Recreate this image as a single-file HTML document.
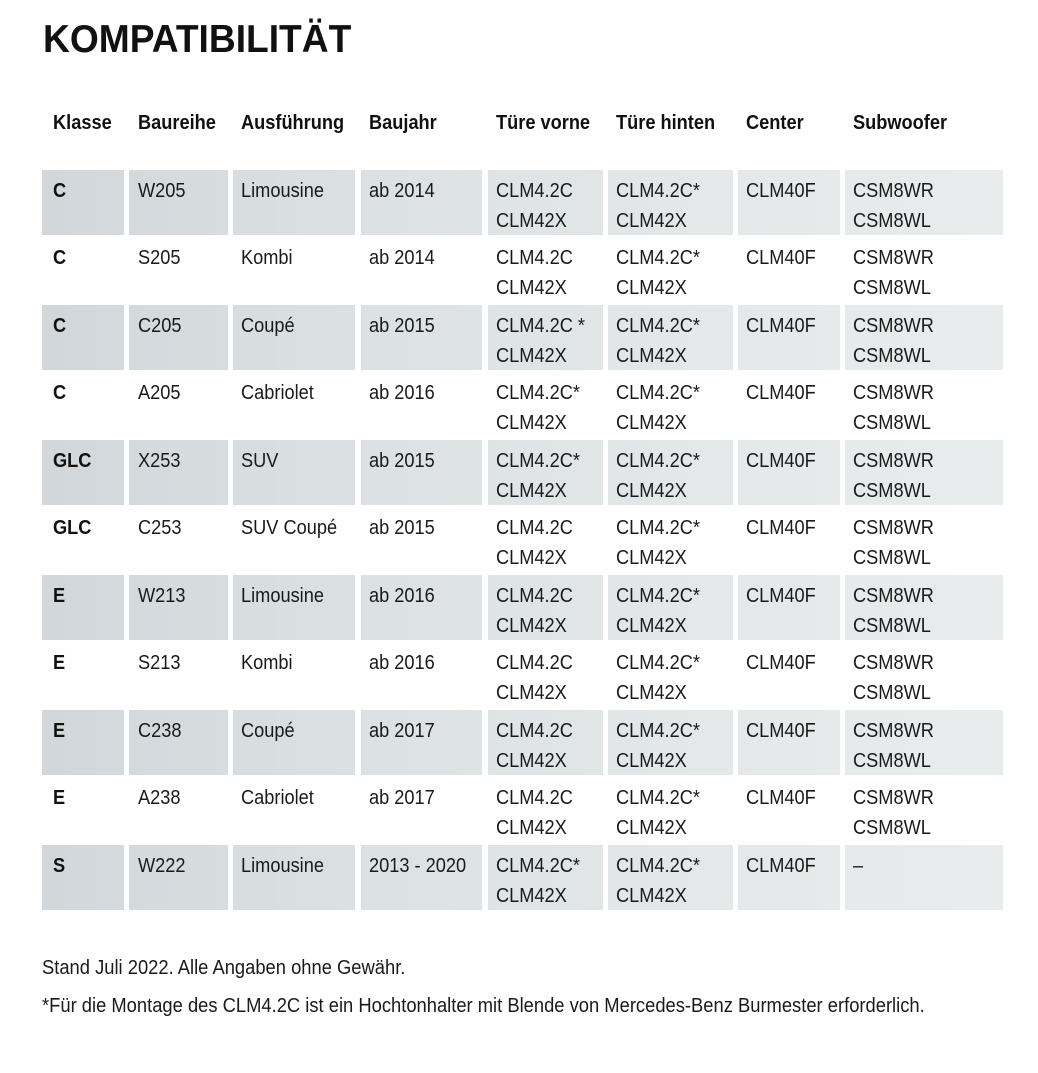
<!DOCTYPE html>
<html>
<head>
<meta charset="utf-8">
<style>
html,body{margin:0;padding:0;background:#fff;}
body{width:1038px;height:1073px;position:relative;overflow:hidden;}
.t{position:absolute;font-family:"Liberation Sans",Arial,sans-serif;font-size:20px;line-height:30px;color:#1a1a1a;transform:scaleX(.91);transform-origin:0 0;white-space:nowrap;}
.b{font-weight:bold;color:#111;}
.title{position:absolute;left:43px;top:20px;font-family:"Liberation Sans",Arial,sans-serif;font-weight:bold;font-size:39px;line-height:39px;color:#111;transform:scaleX(.953);transform-origin:0 0;white-space:nowrap;}
.band{position:absolute;left:42px;width:961px;height:65px;background:linear-gradient(to right,#d1d7da 0%,#dce1e3 35%,#e4e8e9 70%,#e8ecec 100%);}
.gap{position:absolute;top:160px;height:760px;width:5px;background:#fff;}
.fn{transform:scaleX(.918);}
</style>
</head>
<body>
<div class="title">KOMPATIBILITÄT</div>

<!-- header -->
<div class="t b" style="left:53px;top:108px">Klasse</div>
<div class="t b" style="left:138px;top:108px">Baureihe</div>
<div class="t b" style="left:241px;top:108px">Ausführung</div>
<div class="t b" style="left:369px;top:108px">Baujahr</div>
<div class="t b" style="left:496px;top:108px">Türe vorne</div>
<div class="t b" style="left:616px;top:108px">Türe hinten</div>
<div class="t b" style="left:746px;top:108px">Center</div>
<div class="t b" style="left:853px;top:108px">Subwoofer</div>

<!-- shaded bands -->
<div class="band" style="top:170px"></div>
<div class="band" style="top:305px"></div>
<div class="band" style="top:440px"></div>
<div class="band" style="top:575px"></div>
<div class="band" style="top:710px"></div>
<div class="band" style="top:845px"></div>

<!-- column gaps -->
<div class="gap" style="left:124px"></div>
<div class="gap" style="left:228px"></div>
<div class="gap" style="left:355px;width:6px"></div>
<div class="gap" style="left:482px;width:6px"></div>
<div class="gap" style="left:603px"></div>
<div class="gap" style="left:733px"></div>
<div class="gap" style="left:840px"></div>

<!-- row 1 -->
<div class="t b" style="left:53px;top:175.5px">C</div>
<div class="t" style="left:138px;top:175.5px">W205</div>
<div class="t" style="left:241px;top:175.5px">Limousine</div>
<div class="t" style="left:369px;top:175.5px">ab 2014</div>
<div class="t" style="left:496px;top:175.5px">CLM4.2C<br>CLM42X</div>
<div class="t" style="left:616px;top:175.5px">CLM4.2C*<br>CLM42X</div>
<div class="t" style="left:746px;top:175.5px">CLM40F</div>
<div class="t" style="left:853px;top:175.5px">CSM8WR<br>CSM8WL</div>

<!-- row 2 -->
<div class="t b" style="left:53px;top:243px">C</div>
<div class="t" style="left:138px;top:243px">S205</div>
<div class="t" style="left:241px;top:243px">Kombi</div>
<div class="t" style="left:369px;top:243px">ab 2014</div>
<div class="t" style="left:496px;top:243px">CLM4.2C<br>CLM42X</div>
<div class="t" style="left:616px;top:243px">CLM4.2C*<br>CLM42X</div>
<div class="t" style="left:746px;top:243px">CLM40F</div>
<div class="t" style="left:853px;top:243px">CSM8WR<br>CSM8WL</div>

<!-- row 3 -->
<div class="t b" style="left:53px;top:310.5px">C</div>
<div class="t" style="left:138px;top:310.5px">C205</div>
<div class="t" style="left:241px;top:310.5px">Coupé</div>
<div class="t" style="left:369px;top:310.5px">ab 2015</div>
<div class="t" style="left:496px;top:310.5px">CLM4.2C *<br>CLM42X</div>
<div class="t" style="left:616px;top:310.5px">CLM4.2C*<br>CLM42X</div>
<div class="t" style="left:746px;top:310.5px">CLM40F</div>
<div class="t" style="left:853px;top:310.5px">CSM8WR<br>CSM8WL</div>

<!-- row 4 -->
<div class="t b" style="left:53px;top:378px">C</div>
<div class="t" style="left:138px;top:378px">A205</div>
<div class="t" style="left:241px;top:378px">Cabriolet</div>
<div class="t" style="left:369px;top:378px">ab 2016</div>
<div class="t" style="left:496px;top:378px">CLM4.2C*<br>CLM42X</div>
<div class="t" style="left:616px;top:378px">CLM4.2C*<br>CLM42X</div>
<div class="t" style="left:746px;top:378px">CLM40F</div>
<div class="t" style="left:853px;top:378px">CSM8WR<br>CSM8WL</div>

<!-- row 5 -->
<div class="t b" style="left:53px;top:445.5px">GLC</div>
<div class="t" style="left:138px;top:445.5px">X253</div>
<div class="t" style="left:241px;top:445.5px">SUV</div>
<div class="t" style="left:369px;top:445.5px">ab 2015</div>
<div class="t" style="left:496px;top:445.5px">CLM4.2C*<br>CLM42X</div>
<div class="t" style="left:616px;top:445.5px">CLM4.2C*<br>CLM42X</div>
<div class="t" style="left:746px;top:445.5px">CLM40F</div>
<div class="t" style="left:853px;top:445.5px">CSM8WR<br>CSM8WL</div>

<!-- row 6 -->
<div class="t b" style="left:53px;top:513px">GLC</div>
<div class="t" style="left:138px;top:513px">C253</div>
<div class="t" style="left:241px;top:513px">SUV Coupé</div>
<div class="t" style="left:369px;top:513px">ab 2015</div>
<div class="t" style="left:496px;top:513px">CLM4.2C<br>CLM42X</div>
<div class="t" style="left:616px;top:513px">CLM4.2C*<br>CLM42X</div>
<div class="t" style="left:746px;top:513px">CLM40F</div>
<div class="t" style="left:853px;top:513px">CSM8WR<br>CSM8WL</div>

<!-- row 7 -->
<div class="t b" style="left:53px;top:580.5px">E</div>
<div class="t" style="left:138px;top:580.5px">W213</div>
<div class="t" style="left:241px;top:580.5px">Limousine</div>
<div class="t" style="left:369px;top:580.5px">ab 2016</div>
<div class="t" style="left:496px;top:580.5px">CLM4.2C<br>CLM42X</div>
<div class="t" style="left:616px;top:580.5px">CLM4.2C*<br>CLM42X</div>
<div class="t" style="left:746px;top:580.5px">CLM40F</div>
<div class="t" style="left:853px;top:580.5px">CSM8WR<br>CSM8WL</div>

<!-- row 8 -->
<div class="t b" style="left:53px;top:648px">E</div>
<div class="t" style="left:138px;top:648px">S213</div>
<div class="t" style="left:241px;top:648px">Kombi</div>
<div class="t" style="left:369px;top:648px">ab 2016</div>
<div class="t" style="left:496px;top:648px">CLM4.2C<br>CLM42X</div>
<div class="t" style="left:616px;top:648px">CLM4.2C*<br>CLM42X</div>
<div class="t" style="left:746px;top:648px">CLM40F</div>
<div class="t" style="left:853px;top:648px">CSM8WR<br>CSM8WL</div>

<!-- row 9 -->
<div class="t b" style="left:53px;top:715.5px">E</div>
<div class="t" style="left:138px;top:715.5px">C238</div>
<div class="t" style="left:241px;top:715.5px">Coupé</div>
<div class="t" style="left:369px;top:715.5px">ab 2017</div>
<div class="t" style="left:496px;top:715.5px">CLM4.2C<br>CLM42X</div>
<div class="t" style="left:616px;top:715.5px">CLM4.2C*<br>CLM42X</div>
<div class="t" style="left:746px;top:715.5px">CLM40F</div>
<div class="t" style="left:853px;top:715.5px">CSM8WR<br>CSM8WL</div>

<!-- row 10 -->
<div class="t b" style="left:53px;top:783px">E</div>
<div class="t" style="left:138px;top:783px">A238</div>
<div class="t" style="left:241px;top:783px">Cabriolet</div>
<div class="t" style="left:369px;top:783px">ab 2017</div>
<div class="t" style="left:496px;top:783px">CLM4.2C<br>CLM42X</div>
<div class="t" style="left:616px;top:783px">CLM4.2C*<br>CLM42X</div>
<div class="t" style="left:746px;top:783px">CLM40F</div>
<div class="t" style="left:853px;top:783px">CSM8WR<br>CSM8WL</div>

<!-- row 11 -->
<div class="t b" style="left:53px;top:850.5px">S</div>
<div class="t" style="left:138px;top:850.5px">W222</div>
<div class="t" style="left:241px;top:850.5px">Limousine</div>
<div class="t" style="left:369px;top:850.5px">2013 - 2020</div>
<div class="t" style="left:496px;top:850.5px">CLM4.2C*<br>CLM42X</div>
<div class="t" style="left:616px;top:850.5px">CLM4.2C*<br>CLM42X</div>
<div class="t" style="left:746px;top:850.5px">CLM40F</div>
<div class="t" style="left:853px;top:850.5px">–</div>

<!-- footnotes -->
<div class="t fn" style="left:42px;top:952.5px">Stand Juli 2022. Alle Angaben ohne Gewähr.</div>
<div class="t fn" style="left:42px;top:991px">*Für die Montage des CLM4.2C ist ein Hochtonhalter mit Blende von Mercedes-Benz Burmester erforderlich.</div>
</body>
</html>
